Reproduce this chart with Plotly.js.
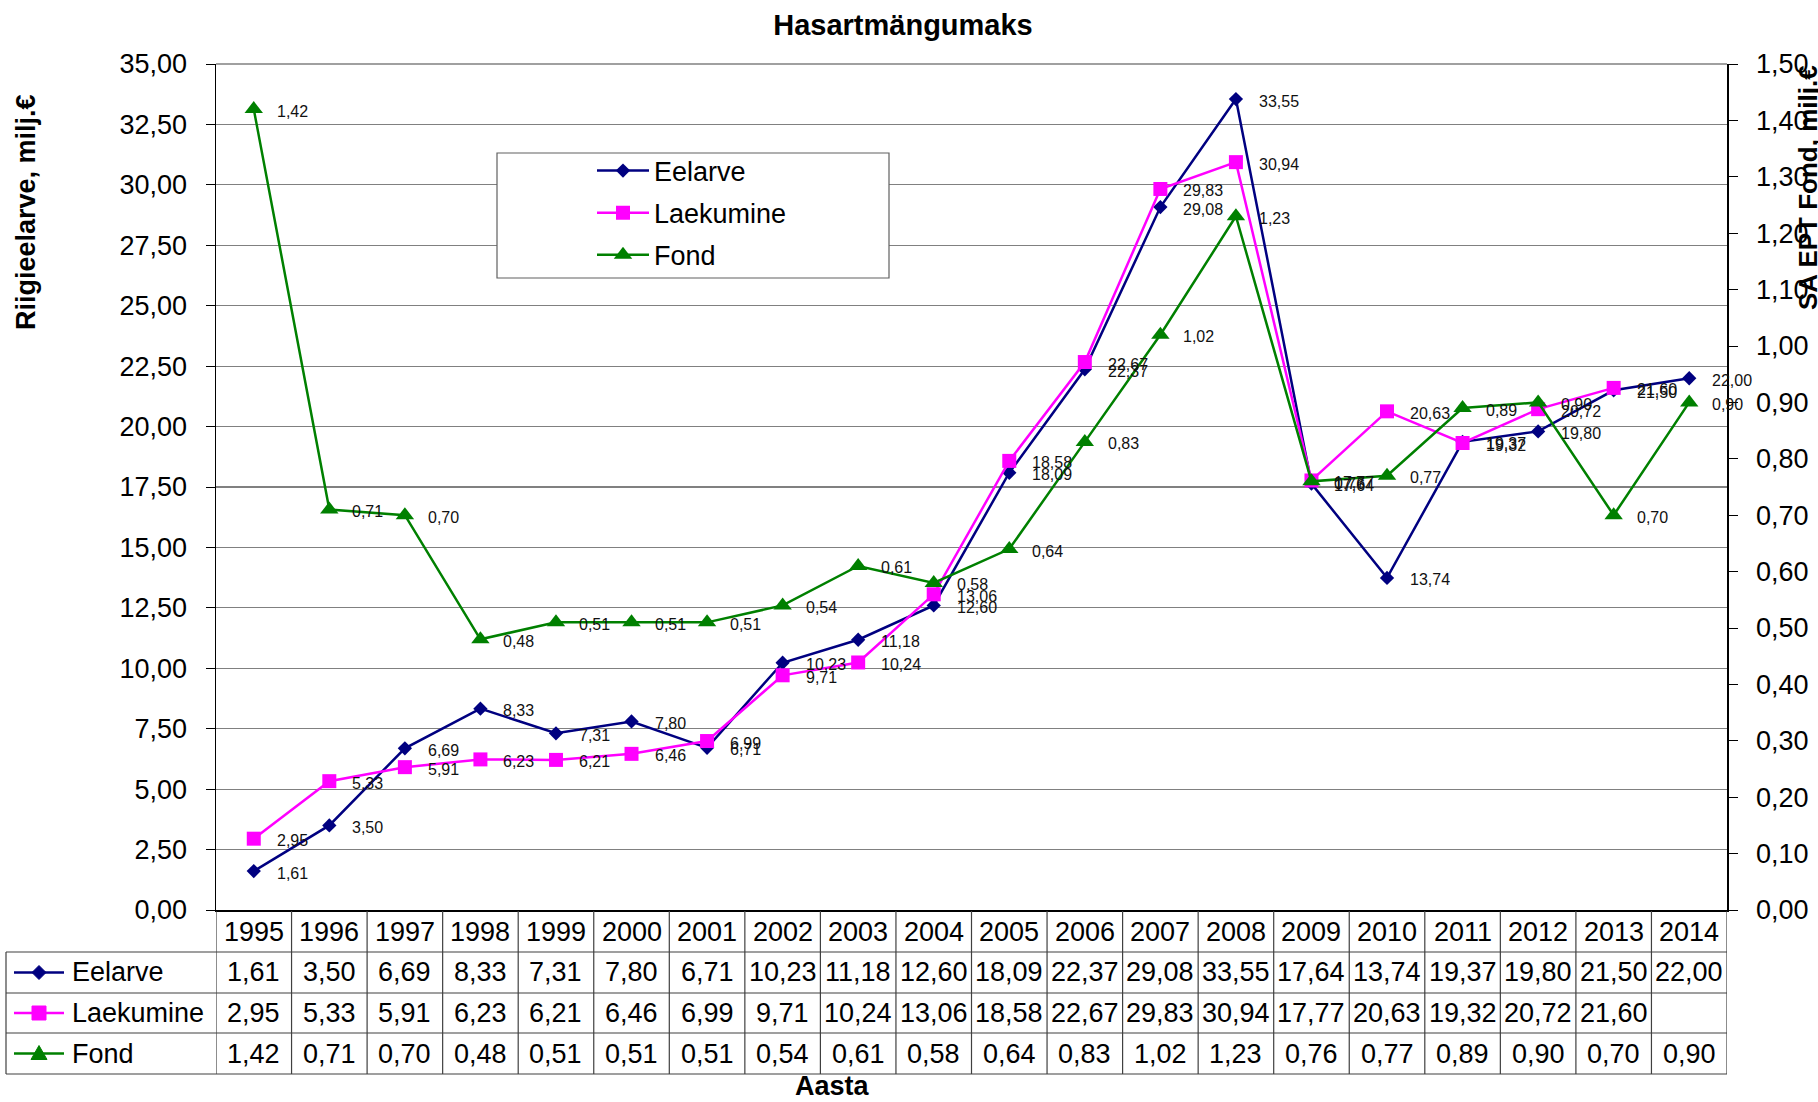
<!DOCTYPE html>
<html>
<head>
<meta charset="utf-8">
<script src="https://cdn.plot.ly/plotly-3.0.1.min.js"></script>
<style>html,body{margin:0;padding:0;background:#fff;}#chart{width:1818px;height:1102px;}</style>
</head>
<body>
<div id="chart"></div>
<script>
// ---- data ----
const years = [1995,1996,1997,1998,1999,2000,2001,2002,2003,2004,2005,2006,2007,2008,2009,2010,2011,2012,2013,2014];
const eelarve = [1.61,3.50,6.69,8.33,7.31,7.80,6.71,10.23,11.18,12.60,18.09,22.37,29.08,33.55,17.64,13.74,19.37,19.80,21.50,22.00];
const laekumine = [2.95,5.33,5.91,6.23,6.21,6.46,6.99,9.71,10.24,13.06,18.58,22.67,29.83,30.94,17.77,20.63,19.32,20.72,21.60,null];
const fond = [1.42,0.71,0.70,0.48,0.51,0.51,0.51,0.54,0.61,0.58,0.64,0.83,1.02,1.23,0.76,0.77,0.89,0.90,0.70,0.90];
const seriesNames = ['Eelarve','Laekumine','Fond'];
const chartTitle = 'Hasartmängumaks';
const yTitle = 'Riigieelarve, milj.€';
const y2Title = 'SA EPT Fond, milj.€';
const xTitle = 'Aasta';

// ---- styling / geometry ----
const FONT = 'Liberation Sans, Arial, sans-serif';
const W = 1818, H = 1102, L = 216, R = 1727, T = 64, B = 910;
const px = x => (x - L) / (R - L);
const py = y => (B - y) / (B - T);
const colors = ['#000080', '#FF00FF', '#008000'];
const symbols = ['diamond', 'square', 'triangle-up'];
const sizes = [11, 14, 16];
const fmt = v => (v === null || v === undefined) ? '' : v.toFixed(2).replace('.', ',');
const seriesData = [eelarve, laekumine, fond];
const axes = ['y', 'y', 'y2'];

const traces = seriesData.map((arr, k) => ({
  type: 'scatter', mode: 'lines+markers', name: seriesNames[k],
  x: years, y: arr, yaxis: axes[k], legendgroup: 'g' + k,
  line: {color: colors[k], width: 2.5},
  marker: {symbol: symbols[k], size: sizes[k], color: colors[k]},
  hoverinfo: 'skip'
}));

const annotations = [];
// data labels
seriesData.forEach((arr, k) => {
  arr.forEach((v, i) => {
    if (v === null) return;
    annotations.push({x: years[i], y: v, xref: 'x', yref: axes[k], text: fmt(v), showarrow: false,
      xanchor: 'left', yanchor: 'middle', xshift: 21, yshift: -2,
      font: {family: FONT, size: 16, color: '#111'}});
  });
});

// table
const rowTops = [911, 952, 993, 1033, 1074];
const rowCenter = r => (rowTops[r] + rowTops[r + 1]) / 2;
years.forEach((yr, i) => {
  annotations.push({x: yr, y: py(rowCenter(0)), xref: 'x', yref: 'paper', text: String(yr), showarrow: false,
    xanchor: 'center', yanchor: 'middle', font: {family: FONT, size: 27, color: '#000'}});
  seriesData.forEach((arr, k) => {
    annotations.push({x: yr, y: py(rowCenter(k + 1)), xref: 'x', yref: 'paper', text: fmt(arr[i]), showarrow: false,
      xanchor: 'center', yanchor: 'middle', font: {family: FONT, size: 27, color: '#000'}});
  });
});
seriesNames.forEach((n, k) => {
  annotations.push({x: px(70), y: py(rowCenter(k + 1)), xref: 'paper', yref: 'paper', text: n, showarrow: false,
    xanchor: 'left', yanchor: 'middle', font: {family: FONT, size: 27, color: '#000'}});
});

// titles
annotations.push({x: px(26), y: py(212), xref: 'paper', yref: 'paper', text: yTitle, textangle: -90, showarrow: false,
  xanchor: 'center', yanchor: 'middle', font: {family: FONT, size: 27, color: '#000', weight: 'bold'}});
annotations.push({x: px(1808), y: py(188), xref: 'paper', yref: 'paper', text: y2Title, textangle: -90, showarrow: false,
  xanchor: 'center', yanchor: 'middle', font: {family: FONT, size: 26, color: '#000', weight: 'bold'}});
annotations.push({x: px(832), y: py(1086), xref: 'paper', yref: 'paper', text: xTitle, showarrow: false,
  xanchor: 'center', yanchor: 'middle', font: {family: FONT, size: 27, color: '#000', weight: 'bold'}});

// shapes
const shapes = [];
const lineC = '#404040';
// legend box
shapes.push({type: 'rect', xref: 'paper', yref: 'paper', x0: px(497), x1: px(889), y0: py(278), y1: py(153),
  line: {color: '#606060', width: 1.2}, fillcolor: '#ffffff', layer: 'above'});
// top border of plot
shapes.push({type: 'line', xref: 'paper', yref: 'paper', x0: 0, x1: 1, y0: 1, y1: 1, line: {color: '#808080', width: 1.5}});
// table horizontal lines
[952, 993, 1033, 1074].forEach(yy => {
  shapes.push({type: 'line', xref: 'paper', yref: 'paper', x0: px(6), x1: 1, y0: py(yy), y1: py(yy), line: {color: lineC, width: 1.2}});
});
// table vertical lines
for (let i = 0; i <= years.length; i++) {
  const xv = years[0] - 0.5 + i;
  shapes.push({type: 'line', xref: 'x', yref: 'paper', x0: xv, x1: xv, y0: py(911), y1: py(1074), line: {color: lineC, width: 1.2}});
}
shapes.push({type: 'line', xref: 'paper', yref: 'paper', x0: px(6), x1: px(6), y0: py(952), y1: py(1074), line: {color: lineC, width: 1.2}});
// table legend keys
function markerPath(sym, cx, cy) {
  const P = (dx, dy) => px(cx + dx) + ',' + py(cy + dy);
  if (sym === 'diamond') return 'M' + P(0,-7) + 'L' + P(7,0) + 'L' + P(0,7) + 'L' + P(-7,0) + 'Z';
  if (sym === 'square') return 'M' + P(-7,-7) + 'L' + P(7,-7) + 'L' + P(7,7) + 'L' + P(-7,7) + 'Z';
  return 'M' + P(0,-8) + 'L' + P(8,6) + 'L' + P(-8,6) + 'Z';
}
seriesNames.forEach((n, k) => {
  const cy = rowCenter(k + 1);
  shapes.push({type: 'line', xref: 'paper', yref: 'paper', x0: px(14), x1: px(64), y0: py(cy), y1: py(cy), line: {color: colors[k], width: 2.5}});
  shapes.push({type: 'path', xref: 'paper', yref: 'paper', path: markerPath(symbols[k], 39, cy), fillcolor: colors[k], line: {color: colors[k], width: 1}});
});

const layout = {
  width: W, height: H,
  margin: {l: L, r: W - R, t: T, b: H - B, pad: 0},
  paper_bgcolor: '#fff', plot_bgcolor: '#fff',
  separators: ', ',
  font: {family: FONT, color: '#000'},
  title: {text: chartTitle, x: 903 / W, xanchor: 'center', xref: 'container', y: 1 - 25 / H, yanchor: 'middle', yref: 'container',
    font: {family: FONT, size: 29, color: '#000', weight: 'bold'}},
  showlegend: true,
  legend: {x: px(592), y: py(146.5), xanchor: 'left', yanchor: 'top', bgcolor: 'rgba(0,0,0,0)', borderwidth: 0,
    font: {family: FONT, size: 27, color: '#000'}, traceorder: 'grouped', tracegroupgap: 4, itemwidth: 52},
  xaxis: {range: [years[0] - 0.5, years[years.length - 1] + 0.5], showticklabels: false, ticks: '', showgrid: false,
    zeroline: false, showline: true, linecolor: '#000', linewidth: 1.5, fixedrange: true},
  yaxis: {range: [0, 35], tick0: 0, dtick: 2.5, tickformat: '.2f', ticks: 'outside', ticklen: 9, tickcolor: '#000', tickwidth: 1,
    showline: true, linecolor: '#000', linewidth: 1.5, showgrid: true, gridcolor: '#808080', gridwidth: 1.2, zeroline: false,
    tickfont: {family: FONT, size: 27, color: '#000'}, ticklabelstandoff: 13, fixedrange: true},
  yaxis2: {overlaying: 'y', side: 'right', range: [0, 1.5], tick0: 0, dtick: 0.1, tickformat: '.2f', ticks: 'outside', ticklen: 9,
    tickcolor: '#000', tickwidth: 1, showline: true, linecolor: '#000', linewidth: 1.5, showgrid: false, zeroline: false,
    tickfont: {family: FONT, size: 27, color: '#000'}, ticklabelstandoff: 13, fixedrange: true},
  yaxis3: {overlaying: 'y', side: 'right', range: [0, 1.5], tick0: 0, dtick: 0.1, ticks: 'inside', ticklen: 9, tickcolor: '#000',
    tickwidth: 1, showticklabels: false, showline: false, showgrid: false, zeroline: false, fixedrange: true},
  annotations: annotations,
  shapes: shapes
};

Plotly.newPlot('chart', traces, layout, {displayModeBar: false, staticPlot: true});
</script>
</body>
</html>
